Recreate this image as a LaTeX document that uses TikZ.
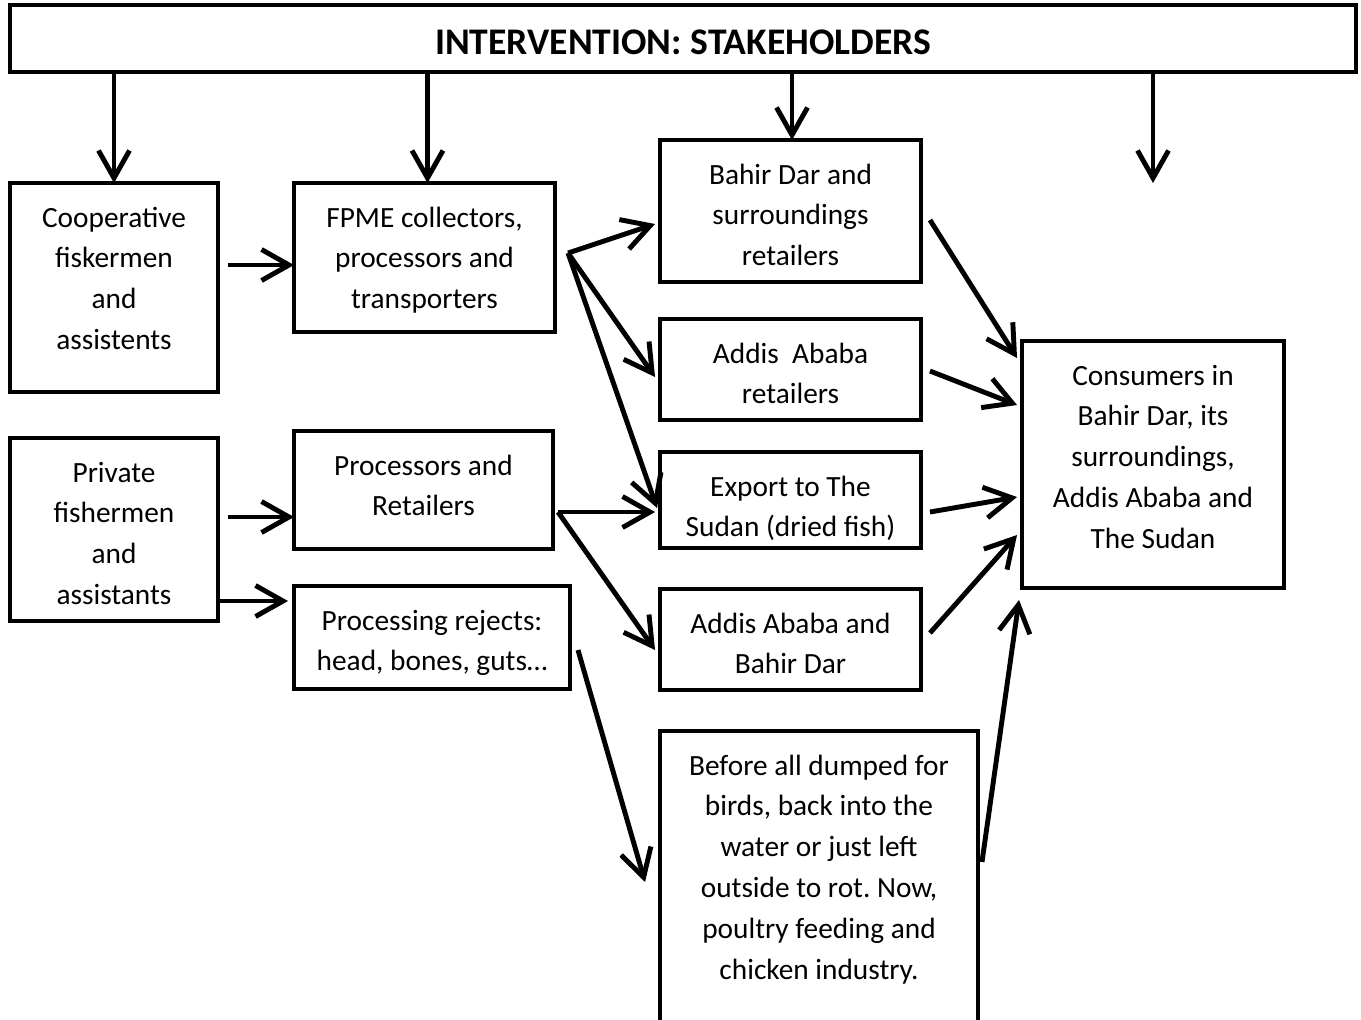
\documentclass[tikz,border=0pt]{standalone}
\usepackage{fontspec}
\setmainfont{Carlito}
\usetikzlibrary{arrows.meta,calc}
\frenchspacing

\begin{document}
\begin{tikzpicture}[x=0.02cm,y=-0.02cm,
  box/.style={draw, line width=2.2pt, anchor=north, align=flush center, inner sep=0.1cm,
    outer sep=0pt, text height=0.78cm, font=\fontsize{16.7}{23.3}\selectfont},
  arr/.style={line width=2.8pt, -{Straight Barb[length=0.55cm,width=0.62cm]}}]

\useasboundingbox (0,0) rectangle (1361,1019);

\node[draw, line width=2.2pt, anchor=north, inner sep=0.1cm, outer sep=0pt, minimum width=26.92cm,
  text height=0.9cm, text depth=0.24cm,
  font=\fontsize{21.4}{25}\selectfont\bfseries] (title) at (683,5) {INTERVENTION: STAKEHOLDERS};

\node[box, text width=3.96cm, text depth=3.20cm] (coop) at (114,183)
  {Cooperative\\fiskermen\\and\\assistents};
\node[box, text width=5.02cm, text depth=2.00cm] (fpme) at (424.5,183)
  {FPME collectors,\\processors and\\transporters};
\node[box, text width=5.02cm, text depth=1.86cm] (retbd) at (790.5,140)
  {Bahir Dar and\\surroundings\\retailers};
\node[box, text width=5.02cm, text depth=1.04cm] (retaa) at (790.5,319)
  {Addis~~Ababa\\retailers};
\node[box, text width=5.02cm, text depth=0.94cm] (exp) at (790.5,452)
  {Export to The\\Sudan (dried fish)};
\node[box, text width=5.02cm, text depth=1.04cm] (aabd) at (790.5,589)
  {Addis Ababa and\\Bahir Dar};
\node[box, text width=5.04cm, text depth=3.96cm] (cons) at (1153,341)
  {Consumers in\\Bahir Dar, its\\surroundings,\\Addis Ababa and\\The Sudan};
\node[box, text width=3.96cm, text depth=2.68cm] (priv) at (114,438)
  {Private\\fishermen\\and\\assistants};
\node[box, text width=4.98cm, text depth=1.38cm] (proc) at (423.5,431)
  {Processors and\\Retailers};
\node[box, text width=5.32cm, text depth=1.08cm] (rej) at (432,586)
  {Processing rejects:\\head, bones, guts…};
\node[box, text width=6.16cm, text depth=5.62cm] (dump) at (819,731)
  {Before all dumped for\\birds, back into the\\water or just left\\outside to rot. Now,\\poultry feeding and\\chicken industry.};

\coordinate (fork1) at (568,253);
\coordinate (fork2) at (558,512);
\coordinate (cend) at (1153,183);

\draw[arr] (title.south -| coop.north) -- (coop.north);
\draw[arr] ($(title.south -| fpme.north)+(3,0)$) -- ($(fpme.north)+(3,0)$);
\draw[arr] ($(title.south -| retbd.north)+(1.5,0)$) -- ($(retbd.north)+(1.5,0)$);
\draw[arr] (title.south -| cend) -- (cend);

\draw[arr] ($(coop.east |- 0,265)+(10,0)$) -- (fpme.west |- 0,265);
\draw[arr] ($(priv.east |- 0,517)+(10,0)$) -- (proc.west |- 0,517);
\draw[arr] (priv.east |- 0,601) -- ($(rej.west |- 0,601)+(-6,0)$);

\draw[arr] (fork1) -- ($(retbd.west |- 0,224)+(-5,0)$);
\draw[arr] (fork1) -- ($(retaa.west |- 0,377)+(-5,0)$);
\draw[arr] (fork1) -- ($(exp.west |- 0,508)+(-3,0)$);
\draw[arr] (fork2) -- ($(exp.west |- 0,512)+(-5,0)$);
\draw[arr] (fork2) -- ($(aabd.west |- 0,650)+(-5,0)$);
\draw[arr] ($(rej.east |- 0,650)+(8,0)$) -- ($(dump.west |- 0,882)+(-15,0)$);

\draw[arr] ($(retbd.east |- 0,220)+(9,0)$) -- ($(cons.west |- 0,358)+(-5,0)$);
\draw[arr] ($(retaa.east |- 0,371)+(9,0)$) -- ($(cons.west |- 0,405)+(-5,0)$);
\draw[arr] ($(exp.east |- 0,512)+(9,0)$) -- ($(cons.west |- 0,497)+(-5,0)$);
\draw[arr] ($(aabd.east |- 0,633)+(9,0)$) -- ($(cons.west |- 0,535)+(-5,0)$);
\draw[arr] ($(dump.east |- 0,862)+(4,0)$) -- ($(cons.south west)+(-3,12)$);

\end{tikzpicture}
\end{document}
